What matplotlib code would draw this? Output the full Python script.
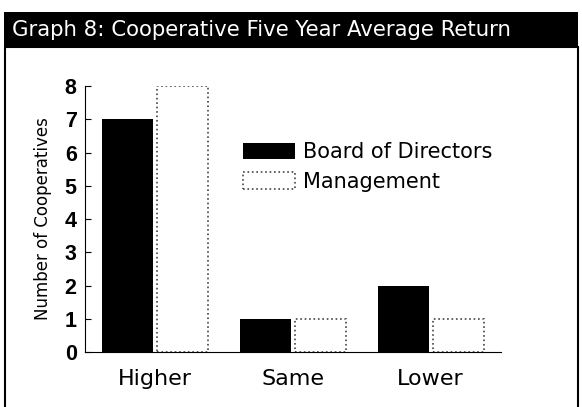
import numpy as np
import matplotlib.pyplot as plt
from matplotlib.patches import Rectangle

categories = ["Higher", "Same", "Lower"]
board = [7, 1, 2]
management = [8, 1, 1]
yticks = [0, 1, 2, 3, 4, 5, 6, 7, 8]

plt.rcParams['font.family'] = ['DejaVu Sans']

fig = plt.figure(figsize=(5.82, 4.07), dpi=100)

# black title band and panel frame
fig.patches.append(Rectangle((4/582, 1-47/407), 574/582, 35/407, transform=fig.transFigure,
                             facecolor="black", edgecolor="none"))
fig.patches.append(Rectangle((5/582, -0.01), 573/582, 1-47/407+0.01, transform=fig.transFigure,
                             facecolor="none", edgecolor="black", linewidth=1.5))
fig.text(12/582, 1-30/407, "Graph 8: Cooperative Five Year Average Return", color="white",
         fontsize=15.3, va="center", ha="left")

ax = fig.add_axes([85/582, 1-352/407, 416/582, 266/407])
x = np.arange(len(categories))
w = 0.37
ax.bar(x - 0.2, board, w, color="black", label="Board of Directors")
ax.bar(x + 0.2, management, w, color="white", edgecolor="#444444", linestyle=":",
       linewidth=1.2, label="Management")

ax.set_xlim(-0.505, 2.51)
ax.set_ylim(0, 8)
ax.set_xticks(x)
ax.set_xticklabels(categories, fontsize=16)
ax.set_yticks(yticks)
ax.set_yticklabels([str(t) for t in yticks], fontfamily="Liberation Sans",
                   fontweight="bold", fontsize=15.5)
ax.tick_params(axis="x", length=0, pad=12)
ax.tick_params(axis="y", direction="in", length=4, pad=6)
ax.spines["top"].set_visible(False)
ax.spines["right"].set_visible(False)
ax.set_ylabel("Number of Cooperatives", fontsize=12, labelpad=9)

ax.legend(loc="upper left", bbox_to_anchor=(0.38, 0.788), frameon=False, fontsize=15,
          handlelength=2.5, handleheight=0.82, handletextpad=0.4, labelspacing=0.45,
          borderpad=0, borderaxespad=0)

fig.savefig("out.png", dpi=100)
